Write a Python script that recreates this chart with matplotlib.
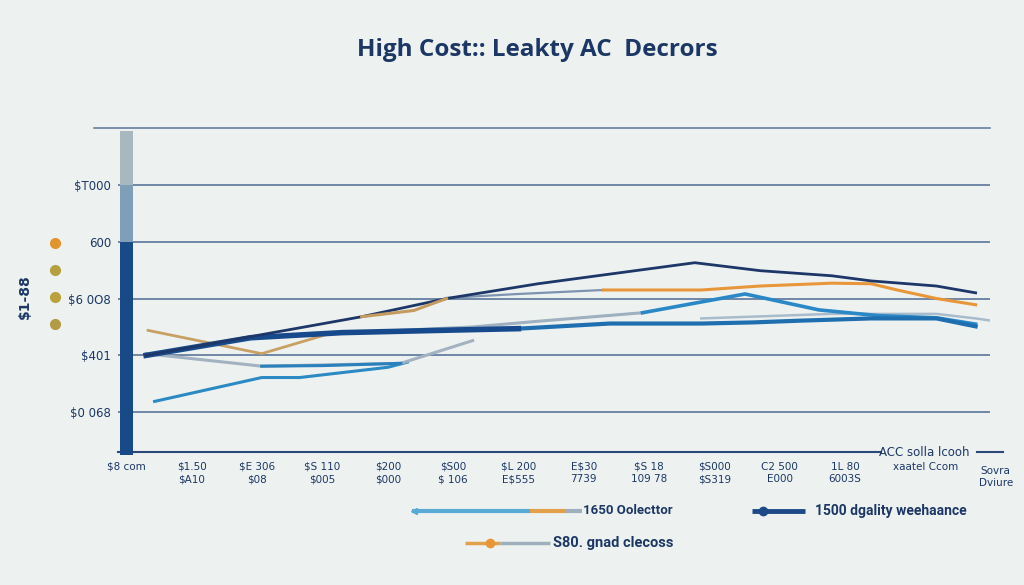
import matplotlib.pyplot as plt
from matplotlib.lines import Line2D
from matplotlib.transforms import ScaledTranslation

# ---- data ----
x_labels = ['$8 com', '$1.50\n$A10', '$E 306\n$08', '$S 110\n$005', '$200\n$000',
            '$S00\n$ 106', '$L 200\nE$555', 'E$30\n7739', '$S 18\n109 78',
            '$S000\n$S319', 'C2 500\nE000', '1L 80\n6003S', 'xaatel Ccom', 'Sovra\nDviure']
y_ticks = [1, 2, 3, 4, 5]
y_labels = ['$0 068', '$401', '$6 0O8', '600', '$T000']

# navy thin upper line
navy_x = [0.3, 3.6, 4.9, 6.3, 7.4, 8.7, 9.7, 10.8, 11.4, 12.4, 13.0]
navy_y = [2.00, 2.68, 3.00, 3.26, 3.43, 3.63, 3.49, 3.40, 3.31, 3.22, 3.10]
tan_x = [3.6, 4.4, 4.9]
tan_y = [2.68, 2.79, 3.00]

# orange line (left stub + right run)
orange_left_x = [0.33, 2.07, 3.1]
orange_left_y = [2.44, 2.03, 2.38]
steel_x = [4.9, 6.0, 7.3]
steel_y = [3.01, 3.08, 3.15]
orange_x = [7.3, 8.8, 9.7, 10.8, 11.4, 11.8, 12.4, 13.0]
orange_y = [3.15, 3.15, 3.22, 3.27, 3.26, 3.15, 3.00, 2.89]

# thick navy / blue line
thick_x = [0.3, 1.9, 3.3, 4.8, 6.0]
thick_y = [2.00, 2.31, 2.40, 2.44, 2.47]
blue_x = [6.0, 7.4, 8.8, 9.6, 10.3, 11.4, 12.4, 13.0]
blue_y = [2.47, 2.56, 2.56, 2.58, 2.61, 2.65, 2.65, 2.51]

# gray lower line with blue middle part
gray_x = [0.3, 2.07, 4.2, 5.3]
gray_y = [2.03, 1.81, 1.86, 2.26]
gray_mid_x = [2.07, 3.0, 4.2]
gray_mid_y = [1.81, 1.82, 1.86]

# lowest blue line
low_x = [0.43, 2.07, 2.65, 4.0, 4.3]
low_y = [1.19, 1.61, 1.61, 1.79, 1.88]

# gray rising into bright blue peak
rise_x = [3.1, 5.3, 6.3, 7.9]
rise_y = [2.38, 2.50, 2.60, 2.75]
peak_x = [7.9, 9.47, 10.6, 11.5, 12.4, 13.0]
peak_y = [2.75, 3.08, 2.80, 2.70, 2.66, 2.55]

# light gray right line
light_x = [8.8, 10.8, 12.4, 13.0, 13.3]
light_y = [2.65, 2.73, 2.73, 2.65, 2.60]

# left stacked bar (bottom, segment heights)
bar_base = 0.25
bar_heights = [3.75, 1.0, 0.95]
bar_colors = ['#174a86', '#7f9fb8', '#a9b8bf']

dot_colors = ['#e0952f', '#b5a040', '#b9a23e', '#b39a45']

bg = '#edf2f1'
navy = '#1c3764'

fig = plt.figure(figsize=(10.24, 5.85), dpi=100, facecolor=bg)
ax = fig.add_axes([118 / 1024, 1 - 452 / 585, 872 / 1024, 324 / 585])
ax.set_facecolor(bg)
ax.set_xlim(-0.13, 13.22)
ax.set_ylim(0.3, 6.0)

for yv in y_ticks:
    ax.axhline(yv, color='#4d6a93', lw=1.1, zorder=1)
ax.axhline(6.0, xmin=-0.028, color='#5a7299', lw=1.1, clip_on=False, zorder=1)

bottom = bar_base
for h, c in zip(bar_heights, bar_colors):
    ax.bar(0, h, bottom=bottom, width=0.2, color=c, clip_on=False, zorder=3)
    bottom += h

ax.plot(low_x, low_y, color='#2b8ac4', lw=2.2, zorder=4)
ax.plot(gray_x, gray_y, color='#a3b2c0', lw=2.2, zorder=4)
ax.plot(gray_mid_x, gray_mid_y, color='#2a80bd', lw=2.2, zorder=4)
ax.plot(orange_left_x, orange_left_y, color='#c9a063', lw=2, zorder=4)
ax.plot(rise_x, rise_y, color='#9fb0c0', lw=2.2, zorder=4)
ax.plot(light_x, light_y, color='#a9bccc', lw=1.8, zorder=4)
ax.plot(peak_x, peak_y, color='#2a88c6', lw=2.6, zorder=5)
ax.plot(blue_x, blue_y, color='#1f6fb0', lw=3, zorder=5)
ax.plot(thick_x, thick_y, color='#174a8c', lw=4, zorder=5)
ax.plot(steel_x, steel_y, color='#7d93b0', lw=1.6, zorder=4)
ax.plot(orange_x, orange_y, color='#e8963a', lw=2.2, zorder=4)
ax.plot(navy_x, navy_y, color='#1d3768', lw=2, zorder=6)
ax.plot(tan_x, tan_y, color='#c49a5e', lw=2.2, zorder=6)

for s in ['top', 'right', 'left']:
    ax.spines[s].set_visible(False)
ax.spines['bottom'].set_color('#2b4a7a')
ax.spines['bottom'].set_linewidth(1.5)
ax.spines['bottom'].set_bounds(-0.13, 11.55)
ax.axhline(0.3, xmin=0.985, xmax=1.015, color='#2b4a7a', lw=1.5, clip_on=False)

ax.set_yticks(y_ticks)
ax.set_yticklabels(y_labels, fontsize=8.5, color=navy)
ax.set_xticks(range(len(x_labels)))
ax.set_xticklabels(x_labels, fontsize=7.5, color=navy, linespacing=1.3)
ax.tick_params(axis='both', length=0)
ax.tick_params(axis='y', pad=5)
ax.tick_params(axis='x', pad=7)
tl = ax.get_xticklabels()
tl[12].set_transform(tl[12].get_transform() + ScaledTranslation(0.15, 0, fig.dpi_scale_trans))
tl[13].set_transform(tl[13].get_transform() + ScaledTranslation(0.2, -0.04, fig.dpi_scale_trans))
ax.text(12.22, 0.3, 'ACC solla lcooh', fontsize=8.5, color=navy, ha='center', va='center')

fig.text(537 / 1024, 1 - 50 / 585, 'High Cost:: Leakty AC  Decrors', fontsize=17.5,
         fontweight='bold', color=navy, family='Open Sans', ha='center', va='center')
fig.text(25 / 1024, 1 - 297 / 585, '$1-88', rotation=90, fontsize=10, fontweight='bold',
         color=navy, ha='center', va='center')

for k, c in enumerate(dot_colors):
    fig.add_artist(Line2D([55 / 1024], [1 - (243 + 27 * k) / 585], marker='o', ms=7,
                          color=c, lw=0))

# legend drawn by hand
def seg(x0, x1, y, c, lw=3):
    fig.add_artist(Line2D([x0 / 1024, x1 / 1024], [1 - y / 585, 1 - y / 585],
                          color=c, lw=lw, solid_capstyle='butt'))

seg(412, 530, 511, '#5aaad6')
seg(530, 565, 511, '#e2a04a')
seg(565, 582, 511, '#9fb0bc')
fig.add_artist(Line2D([414 / 1024], [1 - 511 / 585], marker='<', ms=5, color='#5aaad6', lw=0))
fig.text(583 / 1024, 1 - 511 / 585, '1650 Oolecttor', fontsize=9.5, family='Roboto',
         fontweight='bold', color=navy, va='center')

seg(752, 805, 511, '#1d4a86', lw=3.5)
fig.add_artist(Line2D([763 / 1024], [1 - 511 / 585], marker='o', ms=6, color='#1d4a86', lw=0))
fig.text(815 / 1024, 1 - 511 / 585, '1500 dgality weehaance', fontsize=10, family='Roboto',
         fontweight='bold', color=navy, va='center')

seg(465, 500, 543, '#e2a04a', lw=2.5)
seg(500, 550, 543, '#9fb0bc', lw=2.5)
fig.add_artist(Line2D([490 / 1024], [1 - 543 / 585], marker='o', ms=6, color='#e8963a', lw=0))
fig.text(553 / 1024, 1 - 543 / 585, 'S80. gnad clecoss', fontsize=10.5, family='Roboto',
         fontweight='bold', color=navy, va='center')

fig.savefig('out.png', dpi=100, facecolor=bg)
